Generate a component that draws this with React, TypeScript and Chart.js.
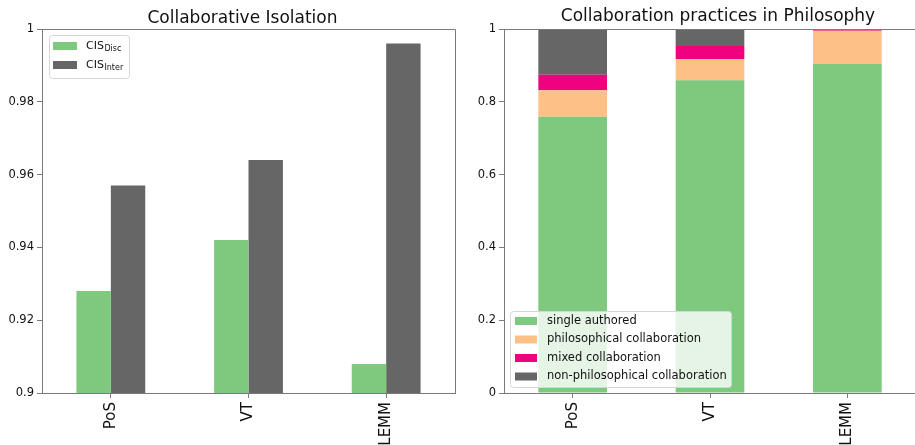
import React, { useEffect, useRef } from "react";
import { Chart, registerables } from "chart.js";

Chart.register(...registerables);

// Venues shown on both panels
const venues = ["PoS", "VT", "LEMM"];

// Collaborative isolation scores
const cisDisc = [0.928, 0.942, 0.908];
const cisInter = [0.957, 0.964, 0.996];
const isolationTicks = [0.9, 0.92, 0.94, 0.96, 0.98, 1];

// Share of papers by collaboration practice
const singleAuthored = [0.759, 0.859, 0.904];
const philosophicalCollab = [0.073, 0.058, 0.091];
const mixedCollab = [0.042, 0.036, 0.005];
const nonPhilosophicalCollab = [0.126, 0.047, 0.0];
const shareTicks = [0, 0.2, 0.4, 0.6, 0.8, 1];

const GREEN = "#7fc97f";
const ORANGE = "#fdc086";
const PINK = "#f0027f";
const DARK = "#666666";
const SPINE = "#7a7a7a";
const TEXT = "#111111";
const FONT = "'DejaVu Sans', sans-serif";

type LegendEntry = { color: string; label: string; sub?: string };
type DecoConfig = {
  title: string;
  titleOffsetX: number;
  titleBaseline: number;
  rightSpine: boolean;
  legend: {
    anchor: "top" | "bottom";
    dx: number;
    dy: number;
    w: number;
    h: number;
    rows: number[];
    patchDx: number;
    patchW: number;
    textDx: number;
    fontSize: number;
    items: LegendEntry[];
  };
};

function roundRect(ctx: CanvasRenderingContext2D, x: number, y: number, w: number, h: number, r: number) {
  ctx.beginPath();
  ctx.moveTo(x + r, y);
  ctx.lineTo(x + w - r, y);
  ctx.quadraticCurveTo(x + w, y, x + w, y + r);
  ctx.lineTo(x + w, y + h - r);
  ctx.quadraticCurveTo(x + w, y + h, x + w - r, y + h);
  ctx.lineTo(x + r, y + h);
  ctx.quadraticCurveTo(x, y + h, x, y + h - r);
  ctx.lineTo(x, y + r);
  ctx.quadraticCurveTo(x, y, x + r, y);
  ctx.closePath();
}

// Draws the title, the top/right frame and a boxed legend on top of the chart
function decorations(cfg: DecoConfig) {
  return {
    id: "decorations",
    afterDraw(chart: Chart) {
      const ctx = chart.ctx;
      const a = chart.chartArea;
      ctx.save();

      // frame: top (and optionally right) edges
      ctx.strokeStyle = SPINE;
      ctx.lineWidth = 1;
      ctx.beginPath();
      ctx.moveTo(Math.round(a.left) + 0.5, Math.round(a.top) + 0.5);
      ctx.lineTo(Math.round(a.right) + 0.5, Math.round(a.top) + 0.5);
      if (cfg.rightSpine) ctx.lineTo(Math.round(a.right) + 0.5, Math.round(a.bottom) + 0.5);
      ctx.stroke();

      // title
      ctx.fillStyle = TEXT;
      ctx.font = `17px ${FONT}`;
      ctx.textAlign = "center";
      ctx.textBaseline = "alphabetic";
      ctx.fillText(cfg.title, (a.left + a.right) / 2 + cfg.titleOffsetX, cfg.titleBaseline);

      // legend
      const L = cfg.legend;
      const bx = a.left + L.dx;
      const by = L.anchor === "top" ? a.top + L.dy : a.bottom - L.dy - L.h;
      ctx.fillStyle = "rgba(255,255,255,0.8)";
      roundRect(ctx, bx + 0.5, by + 0.5, L.w, L.h, 3);
      ctx.fill();
      ctx.strokeStyle = "#d6d6d6";
      ctx.stroke();

      L.items.forEach((item, i) => {
        const cy = by + L.rows[i];
        ctx.fillStyle = item.color;
        ctx.fillRect(bx + L.patchDx, cy - 4, L.patchW, 8);
        ctx.fillStyle = TEXT;
        ctx.textAlign = "left";
        ctx.textBaseline = "middle";
        ctx.font = `${L.fontSize}px ${FONT}`;
        const tx = bx + L.textDx;
        ctx.fillText(item.label, tx, cy);
        if (item.sub) {
          const w = ctx.measureText(item.label).width;
          ctx.font = `${Math.round(L.fontSize * 0.72)}px ${FONT}`;
          ctx.fillText(item.sub, tx + w + 0.5, cy + 3);
        }
      });
      ctx.restore();
    },
  };
}

function axisStyle(tickFont: number) {
  return {
    border: { display: true, color: SPINE, width: 1 },
    grid: { drawOnChartArea: false, drawTicks: true, tickLength: 5, color: SPINE, offset: false },
    ticks: { color: TEXT, font: { family: FONT, size: tickFont }, padding: 3 },
  };
}

const X_FONT = 15;
const Y_FONT = 11.5;

function IsolationChart() {
  const ref = useRef<HTMLCanvasElement>(null);
  useEffect(() => {
    const chart = new Chart(ref.current!, {
      type: "bar",
      data: {
        labels: venues,
        datasets: [
          { label: "CIS Disc", data: cisDisc, backgroundColor: GREEN, borderWidth: 0 },
          { label: "CIS Inter", data: cisInter, backgroundColor: DARK, borderWidth: 0 },
        ],
      },
      options: {
        responsive: false,
        animation: false,
        devicePixelRatio: 1,
        layout: { padding: { top: 29, right: 5, left: 0, bottom: 0 } },
        datasets: { bar: { categoryPercentage: 0.5, barPercentage: 1.0 } },
        plugins: { legend: { display: false }, title: { display: false }, tooltip: { enabled: false } },
        scales: {
          x: {
            ...axisStyle(X_FONT),
            ticks: { ...axisStyle(X_FONT).ticks, minRotation: 90, maxRotation: 90, padding: 4 },
            afterFit: (s: any) => { s.height = 52; },
          },
          y: {
            ...axisStyle(Y_FONT),
            min: 0.9,
            max: 1,
            afterBuildTicks: (s: any) => { s.ticks = isolationTicks.map((v) => ({ value: v })); },
            ticks: { ...axisStyle(Y_FONT).ticks, callback: (v: any) => String(Number(Number(v).toFixed(2))) },
            afterFit: (s: any) => { s.width = 42; },
          },
        },
      },
      plugins: [
        decorations({
          title: "Collaborative Isolation",
          titleOffsetX: -6,
          titleBaseline: 23,
          rightSpine: true,
          legend: {
            anchor: "top",
            dx: 7,
            dy: 6,
            w: 80,
            h: 43,
            rows: [11, 30],
            patchDx: 4,
            patchW: 24,
            textDx: 37,
            fontSize: 11,
            items: [
              { color: GREEN, label: "CIS", sub: "Disc" },
              { color: DARK, label: "CIS", sub: "Inter" },
            ],
          },
        }),
      ],
    });
    return () => chart.destroy();
  }, []);
  return (
    <canvas
      ref={ref}
      width={460}
      height={445}
      style={{ position: "absolute", left: 0, top: 0, width: 460, height: 445 }}
    />
  );
}

function PracticesChart() {
  const ref = useRef<HTMLCanvasElement>(null);
  useEffect(() => {
    const chart = new Chart(ref.current!, {
      type: "bar",
      data: {
        labels: venues,
        datasets: [
          { label: "single authored", data: singleAuthored, backgroundColor: GREEN, borderWidth: 0 },
          { label: "philosophical collaboration", data: philosophicalCollab, backgroundColor: ORANGE, borderWidth: 0 },
          { label: "mixed collaboration", data: mixedCollab, backgroundColor: PINK, borderWidth: 0 },
          { label: "non-philosophical collaboration", data: nonPhilosophicalCollab, backgroundColor: DARK, borderWidth: 0 },
        ],
      },
      options: {
        responsive: false,
        animation: false,
        devicePixelRatio: 1,
        layout: { padding: { top: 29, right: 1, left: 0, bottom: 0 } },
        datasets: { bar: { categoryPercentage: 0.5, barPercentage: 1.0 } },
        plugins: { legend: { display: false }, title: { display: false }, tooltip: { enabled: false } },
        scales: {
          x: {
            ...axisStyle(X_FONT),
            stacked: true,
            ticks: { ...axisStyle(X_FONT).ticks, minRotation: 90, maxRotation: 90, padding: 4 },
            afterFit: (s: any) => { s.height = 52; },
          },
          y: {
            ...axisStyle(Y_FONT),
            stacked: true,
            min: 0,
            max: 1,
            afterBuildTicks: (s: any) => { s.ticks = shareTicks.map((v) => ({ value: v })); },
            ticks: { ...axisStyle(Y_FONT).ticks, callback: (v: any) => String(Number(Number(v).toFixed(2))) },
            afterFit: (s: any) => { s.width = 49; },
          },
        },
      },
      plugins: [
        decorations({
          title: "Collaboration practices in Philosophy",
          titleOffsetX: 8,
          titleBaseline: 21,
          rightSpine: false,
          legend: {
            anchor: "bottom",
            dx: 6,
            dy: 6,
            w: 221,
            h: 76,
            rows: [10, 28.5, 47, 65.5],
            patchDx: 5,
            patchW: 22,
            textDx: 37,
            fontSize: 11.5,
            items: [
              { color: GREEN, label: "single authored" },
              { color: ORANGE, label: "philosophical collaboration" },
              { color: PINK, label: "mixed collaboration" },
              { color: DARK, label: "non-philosophical collaboration" },
            ],
          },
        }),
      ],
    });
    return () => chart.destroy();
  }, []);
  return (
    <canvas
      ref={ref}
      width={462}
      height={445}
      style={{ position: "absolute", left: 455, top: 0, width: 462, height: 445 }}
    />
  );
}

export default function App() {
  return (
    <div
      style={{
        position: "absolute",
        left: 0,
        top: 0,
        width: 915,
        height: 445,
        overflow: "hidden",
        background: "#ffffff",
      }}
    >
      <IsolationChart />
      <PracticesChart />
    </div>
  );
}
